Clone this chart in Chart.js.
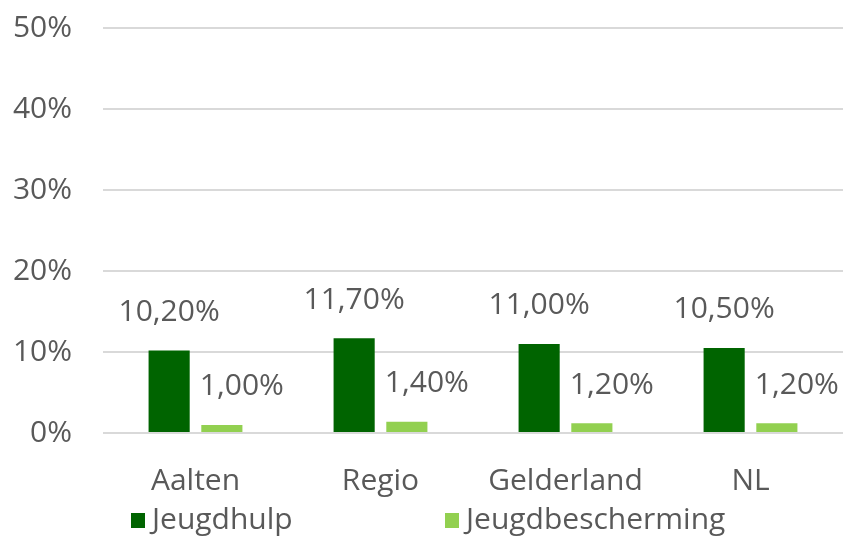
<!DOCTYPE html>
<html><head><meta charset="utf-8">
<script src="https://cdn.jsdelivr.net/npm/chart.js@4"></script>
<style>html,body{margin:0;padding:0;background:#fff}#wrap{width:843px;height:541px}</style>
</head><body><div id="wrap"><canvas id="c" width="843" height="541"></canvas></div>
<script>
const categories = ["Aalten", "Regio", "Gelderland", "NL"];
const jeugdhulp = [10.2, 11.7, 11.0, 10.5];
const jeugdbescherming = [1.0, 1.4, 1.2, 1.2];
const seriesNames = ["Jeugdhulp", "Jeugdbescherming"];
const yTicks = [0, 10, 20, 30, 40, 50];

const FONT = "'Open Sans', 'Noto Sans', sans-serif";
const FS = 30;
const TXT = "#595959";
const fmt = v => v.toFixed(2).replace(".", ",") + "%";

const labelPlugin = {
  id: "labels",
  afterDatasetsDraw(chart) {
    const ctx = chart.ctx;
    ctx.save();
    ctx.font = FS + "px " + FONT;
    ctx.fillStyle = TXT;
    ctx.textAlign = "center";
    ctx.textBaseline = "middle";
    chart.data.datasets.forEach((ds, i) => {
      const meta = chart.getDatasetMeta(i);
      meta.data.forEach((bar, j) => {
        const dx = i === 0 ? 0 : 20;
        ctx.fillText(fmt(ds.data[j]), bar.x + dx, bar.y - 38);
      });
    });
    ctx.restore();
  }
};

const legendPlugin = {
  id: "customLegend",
  afterDraw(chart) {
    const ctx = chart.ctx;
    ctx.save();
    ctx.font = FS + "px " + FONT;
    ctx.textBaseline = "middle";
    ctx.textAlign = "left";
    const starts = [131, 445];
    chart.data.datasets.forEach((ds, i) => {
      const x = starts[i], y = 520;
      ctx.fillStyle = ds.backgroundColor;
      ctx.fillRect(x, y - 7, 14, 15);
      ctx.fillStyle = TXT;
      ctx.fillText(ds.label, x + 21, y);
    });
    ctx.restore();
  }
};

new Chart(document.getElementById("c"), {
  type: "bar",
  data: {
    labels: categories,
    datasets: [
      { label: seriesNames[0], data: jeugdhulp, backgroundColor: "#006400", categoryPercentage: 0.57, barPercentage: 0.78 },
      { label: seriesNames[1], data: jeugdbescherming, backgroundColor: "#92d050", categoryPercentage: 0.57, barPercentage: 0.78 }
    ]
  },
  options: {
    responsive: false,
    animation: false,
    devicePixelRatio: 1,
    layout: { padding: { top: 28, right: 0, bottom: 28, left: 0 } },
    plugins: { legend: { display: false }, tooltip: { enabled: false } },
    scales: {
      x: {
        grid: { display: false, drawTicks: false },
        border: { display: false },
        ticks: { color: TXT, font: { size: FS, family: FONT }, padding: 30 },
        afterFit(s) { s.height = 80; s.paddingLeft = 0; s.paddingRight = 0; }
      },
      y: {
        min: 0, max: 50,
        afterBuildTicks(s) { s.ticks = yTicks.map(v => ({ value: v })); },
        grid: { color: "#d9d9d9", lineWidth: 2, drawTicks: false },
        border: { display: false },
        ticks: { color: TXT, font: { size: FS, family: FONT }, padding: 31, callback: v => v + "%" },
        afterFit(s) { s.width = 103; s.paddingTop = 0; s.paddingBottom = 0; }
      }
    }
  },
  plugins: [labelPlugin, legendPlugin]
});
</script></body></html>
